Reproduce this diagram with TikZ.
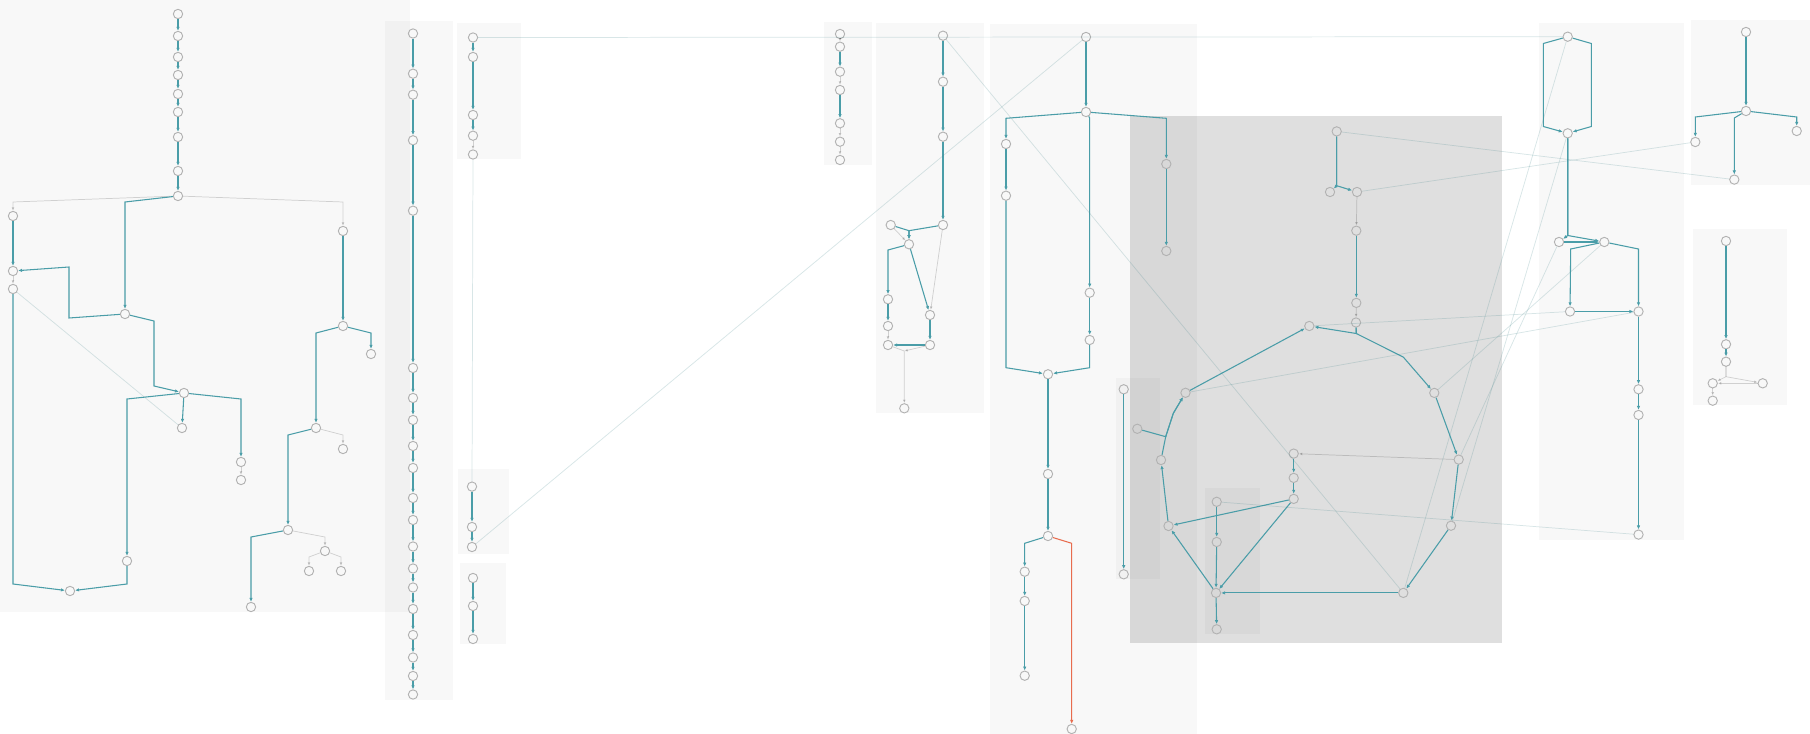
\documentclass[tikz,border=0pt]{standalone}
\usepackage{tikz}
\usepackage{xcolor}
\usetikzlibrary{arrows.meta}

\definecolor{linkteal}{RGB}{74,157,168}
\definecolor{hintteal}{RGB}{60,130,135}
\definecolor{hotred}{RGB}{232,108,78}

\begin{document}
\begin{tikzpicture}[
    x=0.75pt, y=-0.75pt,
    nd/.style={circle, draw=black!30, line width=0.7pt, minimum size=7pt, inner sep=0pt},
    link/.style={draw=linkteal, line width=0.8pt, -{Latex[length=3pt,width=2.6pt]}},
    hot/.style={link, draw=hotred},
    faint/.style={draw=black, draw opacity=0.16, fill opacity=0.16, line width=0.55pt, -{Latex[length=2.6pt,width=2.2pt]}},
    hint/.style={draw=hintteal, draw opacity=0.2, line width=0.55pt},
    box/.style={fill=black, fill opacity=#1},
    box/.default=0.028
]

    \useasboundingbox (0,0) rectangle (1810,734);
    \fill[white] (0,0) rectangle (1810,734);

    % Panels
    \fill[box] (0,0) rectangle (410,612);
    \fill[box] (385,21) rectangle (453,700);
    \fill[box] (457,23) rectangle (521,159);
    \fill[box] (458,469) rectangle (509,554);
    \fill[box] (460,563) rectangle (506,644);
    \fill[box] (824,22) rectangle (872,165);
    \fill[box] (876,23) rectangle (984,413);
    \fill[box] (990,24) rectangle (1197,734);
    \fill[box] (1116,378) rectangle (1160,579);
    \fill[box=0.125] (1130,116) rectangle (1502,643);
    \fill[box] (1205,488) rectangle (1260,634);
    \fill[box] (1539,23) rectangle (1684,540);
    \fill[box] (1691,20) rectangle (1810,185);
    \fill[box] (1693,229) rectangle (1787,405);

    % Left tree
    \node[nd] (t0) at (178,14) {};
    \node[nd] (t1) at (178,36) {};
    \node[nd] (t2) at (178,57) {};
    \node[nd] (t3) at (178,75) {};
    \node[nd] (t4) at (178,94) {};
    \node[nd] (t5) at (178,112) {};
    \node[nd] (t6) at (178,137) {};
    \node[nd] (t7) at (178,171) {};
    \node[nd] (hub) at (178,196) {};
    \node[nd] (l1) at (13,216) {};
    \node[nd] (l2) at (13,271) {};
    \node[nd] (l3) at (13,289) {};
    \node[nd] (l4) at (70,591) {};
    \node[nd] (m1) at (125,314) {};
    \node[nd] (m2) at (184,393) {};
    \node[nd] (m3) at (182,428) {};
    \node[nd] (m4) at (127,561) {};
    \node[nd] (m5) at (241,462) {};
    \node[nd] (m6) at (241,480) {};
    \node[nd] (r1) at (343,231) {};
    \node[nd] (r2) at (343,326) {};
    \node[nd] (r3) at (371,354) {};
    \node[nd] (r4) at (316,428) {};
    \node[nd] (r5) at (343,449) {};
    \node[nd] (r6) at (288,530) {};
    \node[nd] (r7) at (251,607) {};
    \node[nd] (r8) at (325,551) {};
    \node[nd] (r9) at (309,571) {};
    \node[nd] (r10) at (341,571) {};

    \draw[link] (t0) -- (t1);
    \draw[link] (t1) -- (t2);
    \draw[link] (t2) -- (t3);
    \draw[link] (t3) -- (t4);
    \draw[link] (t4) -- (t5);
    \draw[link] (t5) -- (t6);
    \draw[link] (t6) -- (t7);
    \draw[link] (t7) -- (hub);
    \draw[faint] (hub) -- (13,202) -- (l1);
    \draw[link] (hub) -- (125,202) -- (m1);
    \draw[faint] (hub) -- (343,202) -- (r1);
    \draw[link] (l1) -- (l2);
    \draw[faint] (l2) -- (l3);
    \draw[link] (m1) -- (69,318) -- (69,267) -- (l2);
    \draw[link] (l3) -- (13,584) -- (l4);
    \draw[hint] (l3) -- (m3);
    \draw[link] (m1) -- (154,321) -- (154,386) -- (m2);
    \draw[link] (m2) -- (127,399) -- (m4);
    \draw[link] (m4) -- (127,584) -- (l4);
    \draw[link] (m2) -- (m3);
    \draw[link] (m2) -- (241,399) -- (m5);
    \draw[faint] (m5) -- (m6);
    \draw[link] (r1) -- (r2);
    \draw[link] (r2) -- (316,333) -- (r4);
    \draw[link] (r2) -- (371,333) -- (r3);
    \draw[link] (r4) -- (288,435) -- (r6);
    \draw[faint] (r4) -- (343,435) -- (r5);
    \draw[link] (r6) -- (251,537) -- (r7);
    \draw[faint] (r6) -- (325,537) -- (r8);
    \draw[faint] (r8) -- (309,557) -- (r9);
    \draw[faint] (r8) -- (341,557) -- (r10);

    % Long column
    \node[nd] (c1) at (413,33.5) {};
    \node[nd] (c2) at (413,73.7) {};
    \node[nd] (c3) at (413,94.7) {};
    \node[nd] (c4) at (413,140.3) {};
    \node[nd] (c5) at (413,210.7) {};
    \node[nd] (c6) at (413,368) {};
    \node[nd] (c7) at (413,398) {};
    \node[nd] (c8) at (413,420) {};
    \node[nd] (c9) at (413,446) {};
    \node[nd] (c10) at (413,468) {};
    \node[nd] (c11) at (413,498) {};
    \node[nd] (c12) at (413,520) {};
    \node[nd] (c13) at (413,546.5) {};
    \node[nd] (c14) at (413,568.5) {};
    \node[nd] (c15) at (413,587.5) {};
    \node[nd] (c16) at (413,609) {};
    \node[nd] (c17) at (413,635) {};
    \node[nd] (c18) at (413,657.5) {};
    \node[nd] (c19) at (413,676) {};
    \node[nd] (c20) at (413,694.5) {};

    \draw[link] (c1) -- (c2);
    \draw[link] (c2) -- (c3);
    \draw[link] (c3) -- (c4);
    \draw[link] (c4) -- (c5);
    \draw[link] (c5) -- (c6);
    \draw[link] (c6) -- (c7);
    \draw[link] (c7) -- (c8);
    \draw[link] (c8) -- (c9);
    \draw[link] (c9) -- (c10);
    \draw[link] (c10) -- (c11);
    \draw[link] (c11) -- (c12);
    \draw[link] (c12) -- (c13);
    \draw[link] (c13) -- (c14);
    \draw[link] (c14) -- (c15);
    \draw[link] (c15) -- (c16);
    \draw[link] (c16) -- (c17);
    \draw[link] (c17) -- (c18);
    \draw[link] (c18) -- (c19);
    \draw[link] (c19) -- (c20);

    % Small columns
    \node[nd] (p1) at (473,37.5) {};
    \node[nd] (p2) at (473,57) {};
    \node[nd] (p3) at (473,115) {};
    \node[nd] (p4) at (473,135.7) {};
    \node[nd] (p5) at (473,154.5) {};
    \node[nd] (q1) at (472,486.6) {};
    \node[nd] (q2) at (472,527) {};
    \node[nd] (q3) at (472,547) {};
    \node[nd] (s1) at (473,578) {};
    \node[nd] (s2) at (473,606) {};
    \node[nd] (s3) at (473,639) {};

    \draw[link] (p1) -- (p2);
    \draw[link] (p2) -- (p3);
    \draw[link] (p3) -- (p4);
    \draw[faint] (p4) -- (p5);
    \draw[hint] (p5) -- (q1);
    \draw[link] (q1) -- (q2);
    \draw[link] (q2) -- (q3);
    \draw[link] (s1) -- (s2);
    \draw[link] (s2) -- (s3);

    \node[nd] (f1) at (840,34) {};
    \node[nd] (f2) at (840,46.7) {};
    \node[nd] (f3) at (840,71.7) {};
    \node[nd] (f4) at (840,90) {};
    \node[nd] (f5) at (840,123.3) {};
    \node[nd] (f6) at (840,141.7) {};
    \node[nd] (f7) at (840,160) {};

    \draw[faint] (f1) -- (f2);
    \draw[link] (f2) -- (f3);
    \draw[faint] (f3) -- (f4);
    \draw[link] (f4) -- (f5);
    \draw[faint] (f5) -- (f6);
    \draw[faint] (f6) -- (f7);

    % Middle tree
    \node[nd] (ga) at (943,35.7) {};
    \node[nd] (gb) at (943,81.7) {};
    \node[nd] (gc) at (943,136.7) {};
    \node[nd] (gd) at (943,225) {};
    \node[nd] (ge) at (890.7,225) {};
    \node[nd] (gf) at (909,244.3) {};
    \node[nd] (gg) at (888,299.3) {};
    \node[nd] (gh) at (888,326) {};
    \node[nd] (gi) at (888,345) {};
    \node[nd] (gj) at (930,315) {};
    \node[nd] (gk) at (930,345) {};
    \node[nd] (gl) at (904.3,408.3) {};

    \draw[link] (ga) -- (gb);
    \draw[link] (gb) -- (gc);
    \draw[link] (gc) -- (gd);
    \draw[link] (gd) -- (909,230.7) -- (gf);
    \draw[link] (ge) -- (909,230.7) -- (gf);
    \draw[faint] (ge) -- (gf);
    \draw[link] (gf) -- (888,250) -- (gg);
    \draw[link] (gg) -- (gh);
    \draw[faint] (gh) -- (gi);
    \draw[link] (gf) -- (gj);
    \draw[link] (gj) -- (gk);
    \draw[link] (gk) -- (gi);
    \draw[faint] (gd) -- (gj);
    \draw[faint] (gi) -- (904.3,351) -- (gl);
    \draw[faint] (gk) -- (904.3,351);

    % Tall tree
    \node[nd] (u1) at (1086,37) {};
    \node[nd] (u2) at (1086,112) {};
    \node[nd] (u3) at (1006,144) {};
    \node[nd] (u4) at (1006,195.7) {};
    \node[nd] (u5) at (1089.7,292.7) {};
    \node[nd] (u6) at (1089.7,340) {};
    \node[nd] (u7) at (1048,374.3) {};
    \node[nd] (u8) at (1166.3,164) {};
    \node[nd] (u9) at (1166.3,251) {};
    \node[nd] (w1) at (1048,474) {};
    \node[nd] (w2) at (1048,536) {};
    \node[nd] (w3) at (1024.7,571.7) {};
    \node[nd] (w4) at (1024.7,601) {};
    \node[nd] (w5) at (1024.7,675.7) {};
    \node[nd] (w6) at (1071.7,729) {};
    \node[nd] (v1) at (1123.7,389.3) {};
    \node[nd] (v2) at (1123.7,574.3) {};

    \draw[link] (u1) -- (u2);
    \draw[link] (u2) -- (1006,118.3) -- (u3);
    \draw[link] (u3) -- (u4);
    \draw[link] (u4) -- (1006,367.7) -- (u7);
    \draw[link] (u2) -- (1089.7,118) -- (u5);
    \draw[link] (u5) -- (u6);
    \draw[link] (u6) -- (1089.7,367.7) -- (u7);
    \draw[link] (u2) -- (1166.3,118.3) -- (u8);
    \draw[link] (u8) -- (u9);
    \draw[link] (u7) -- (w1);
    \draw[link] (w1) -- (w2);
    \draw[link] (w2) -- (1024.7,543.3) -- (w3);
    \draw[link] (w3) -- (w4);
    \draw[link] (w4) -- (w5);
    \draw[hot] (w2) -- (1071.7,543.3) -- (w6);
    \draw[link] (v1) -- (v2);

    % Ring
    \node[nd] (k1) at (1336.7,131.4) {};
    \node[nd] (k2) at (1330,192) {};
    \node[nd] (k3) at (1357,192) {};
    \node[nd] (k4) at (1356.3,230.7) {};
    \node[nd] (k5) at (1356.3,302.9) {};
    \node[nd] (k6) at (1356,322.5) {};
    \node[nd] (o1) at (1309.3,326) {};
    \node[nd] (o2) at (1434.3,392.9) {};
    \node[nd] (o3) at (1458.7,459.6) {};
    \node[nd] (o4) at (1451,525.7) {};
    \node[nd] (o5) at (1403.3,592.9) {};
    \node[nd] (o6) at (1216,592.9) {};
    \node[nd] (o7) at (1168.5,526) {};
    \node[nd] (o8) at (1161,460) {};
    \node[nd] (o9) at (1185.5,392.8) {};
    \node[nd] (oR) at (1137.3,428.8) {};
    \node[nd] (y1) at (1293.7,453.6) {};
    \node[nd] (y2) at (1293.7,477.9) {};
    \node[nd] (y3) at (1293.7,498.9) {};
    \node[nd] (z1) at (1216.7,501.8) {};
    \node[nd] (z2) at (1216.7,542) {};
    \node[nd] (z3) at (1216.7,629.3) {};

    \draw[link] (k1) -- (1336.7,185.7) -- (k2);
    \draw[link] (k1) -- (1336.7,185.7) -- (k3);
    \draw[faint] (k3) -- (k4);
    \draw[link] (k4) -- (k5);
    \draw[faint] (k5) -- (k6);
    \draw[link] (k6) -- (1356.3,333.5) -- (o1);
    \draw[link] (k6) -- (1356.3,333.5) -- (1403.3,357.1) -- (o2);
    \draw[link] (o2) -- (o3);
    \draw[link] (o3) -- (o4);
    \draw[link] (o4) -- (o5);
    \draw[link] (o5) -- (o6);
    \draw[link] (o6) -- (o7);
    \draw[link] (o7) -- (o8);
    \draw[link] (o8) -- (1165.7,436.7) -- (1173.3,413.3) -- (o9);
    \draw[link] (oR) -- (1165.7,436.7) -- (1173.3,413.3) -- (o9);
    \draw[link] (o9) -- (o1);
    \draw[link] (y1) -- (y2);
    \draw[link] (y2) -- (y3);
    \draw[link] (y3) -- (o7);
    \draw[link] (y3) -- (o6);
    \draw[link] (z1) -- (z2);
    \draw[link] (z2) -- (o6);
    \draw[link] (o6) -- (z3);
    \draw[faint] (o3) -- (y1);

    % Right trees
    \node[nd] (S1) at (1567.7,36.7) {};
    \node[nd] (S2) at (1567.7,133.3) {};
    \node[nd] (S3) at (1559,242) {};
    \node[nd] (S4) at (1604.3,242) {};
    \node[nd] (S5) at (1570,311.5) {};
    \node[nd] (S6) at (1638.5,311.5) {};
    \node[nd] (S7) at (1638.5,389.3) {};
    \node[nd] (S8) at (1638.5,415) {};
    \node[nd] (S9) at (1638.5,534.6) {};

    \draw[link] (S1) -- (1543.3,43.5) -- (1543.3,126.5) -- (S2);
    \draw[link] (S1) -- (1591.3,43.5) -- (1591.3,126.5) -- (S2);
    \draw[link] (S2) -- (1567.7,235.5) -- (S3);
    \draw[link] (S2) -- (1567.7,235.5) -- (S4);
    \draw[link] (S3) -- (S4);
    \draw[link] (S4) -- (1570.7,249) -- (S5);
    \draw[link] (S4) -- (1638.5,249) -- (S6);
    \draw[link] (S5) -- (S6);
    \draw[link] (S6) -- (S7);
    \draw[link] (S7) -- (S8);
    \draw[link] (S8) -- (S9);

    \node[nd] (X1) at (1746,32) {};
    \node[nd] (X2) at (1746,111) {};
    \node[nd] (X3) at (1695.3,142) {};
    \node[nd] (X4) at (1796.7,131) {};
    \node[nd] (X5) at (1734.3,179.6) {};

    \draw[link] (X1) -- (X2);
    \draw[link] (X2) -- (1695.3,117) -- (X3);
    \draw[link] (X2) -- (1796.7,117) -- (X4);
    \draw[link] (X2) -- (1734.3,118) -- (X5);

    \node[nd] (K1) at (1726,241) {};
    \node[nd] (K2) at (1726,344.3) {};
    \node[nd] (K3) at (1726,361.7) {};
    \node[nd] (K4) at (1712.7,383.3) {};
    \node[nd] (K5) at (1762.7,383.3) {};
    \node[nd] (K6) at (1712.7,400.7) {};

    \draw[link] (K1) -- (K2);
    \draw[link] (K2) -- (K3);
    \draw[faint] (K3) -- (1726,376.7) -- (K4);
    \draw[faint] (K3) -- (1726,376.7) -- (K5);
    \draw[faint] (K5) -- (K4);
    \draw[faint] (K4) -- (K6);

    % Cross links
    \draw[hint] (p1) -- (S1);
    \draw[hint] (q3) -- (u1);
    \draw[hint] (ga) -- (o5);
    \draw[hint] (k1) -- (X5);
    \draw[hint] (k3) -- (X3);
    \draw[hint] (o1) -- (S5);
    \draw[hint] (o9) -- (S6);
    \draw[hint] (z1) -- (S9);
    \draw[hint] (o2) -- (S4);
    \draw[hint] (o3) -- (S3);
    \draw[hint] (o4) -- (S2);
    \draw[hint] (o5) -- (S1);

\end{tikzpicture}
\end{document}
